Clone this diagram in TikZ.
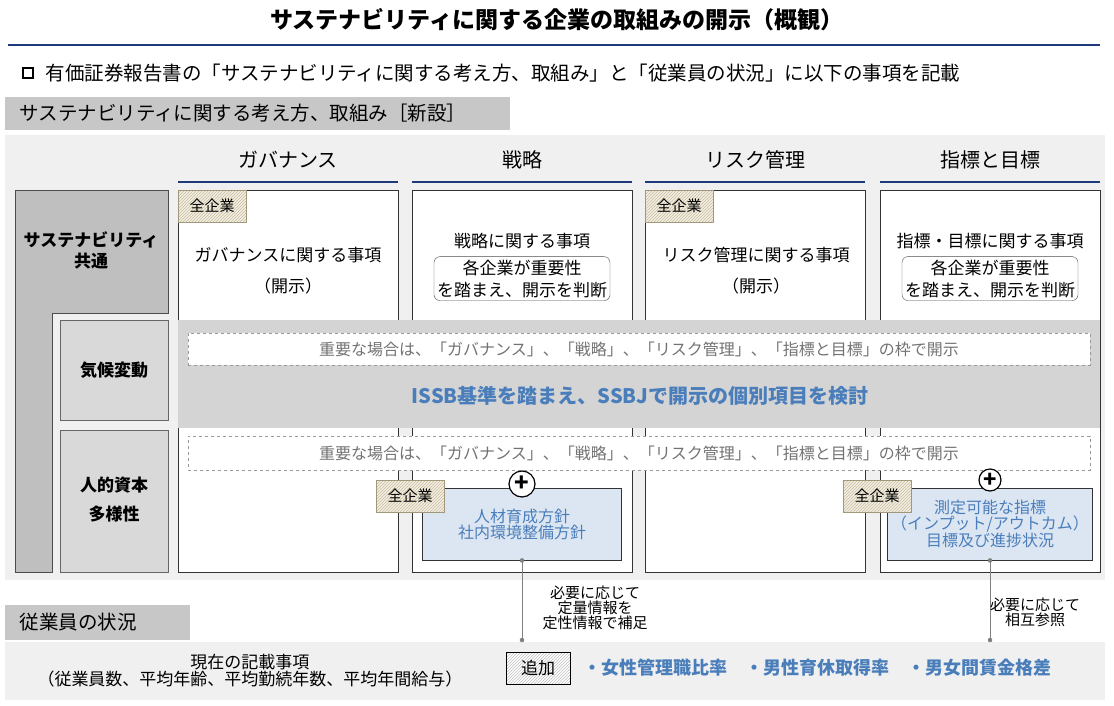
\documentclass[tikz,border=0pt]{standalone}
\usepackage{fontspec}
\setmainfont{Noto Sans CJK JP}
\usetikzlibrary{positioning,patterns}
\definecolor{navy}{HTML}{1F3A7A}
\definecolor{bluetxt}{HTML}{4A7EBB}
\definecolor{bluefill}{HTML}{DCE6F2}
\definecolor{hatch}{HTML}{C9BE9A}
\tikzset{
  fs/.style={font=\fontsize{#1}{#1}\selectfont},
  fsb/.style={font=\fontsize{#1}{#1}\selectfont\bfseries},
  colbox/.style={draw=black!80,fill=white},
  tagbox/.style={draw=hatch!80!black,preaction={fill=hatch!25},pattern=north east lines,pattern color=hatch,fs=15,text=black},
  dashbox/.style={draw=black!40,dashed,fill=white,fs=16,text=black!55},
  bluebox/.style={draw=black!80,fill=bluefill,fs=16,text=bluetxt,align=center,line width=0.8pt},
  head/.style={fs=20},
  body/.style={fs=17,align=center},
  link/.style={draw=black!50,line width=1pt},
  dot/.style={circle,fill=black!50,inner sep=1.6pt},
}
\begin{document}
\begin{tikzpicture}[x=1pt,y=-1pt]
  \useasboundingbox (0,0) rectangle (1114,705);
  \fill[white] (0,0) rectangle (1114,705);
  % title
  \node[fsb=23] (title) at (557,20) {サステナビリティに関する企業の取組みの開示（概観）};
  \draw[navy,line width=2pt] (8,45) -- (1100,45);
  \node[draw,line width=2pt,minimum size=10pt,inner sep=0pt] (bullet) at (28,73) {};
  \node[fs=19.5,anchor=west,right=8pt of bullet] (intro) {有価証券報告書の「サステナビリティに関する考え方、取組み」と「従業員の状況」に以下の事項を記載};
  % section bar
  \fill[black!22] (5,97) rectangle (510,130);
  \node[fs=19.5,anchor=west] (sec) at (16,113) {サステナビリティに関する考え方、取組み［新設］};
  \fill[black!6] (5,135) rectangle (1105,580);
  % columns
  \foreach \l/\r/\t/\n in {178/398/ガバナンス/gov,412/632/戦略/str,645/865/リスク管理/risk,880/1100/指標と目標/met}{
    \node[head] (h\n) at ({(\l+\r)/2},160) {\t};
    \draw[navy,line width=2.5pt] (\l,182) -- (\r,182);
    \draw[colbox] (\l,190) rectangle (\r,572);
  }
  % left gray shape
  \draw[fill=black!25,draw=black!70] (15,190) -- (168,190) -- (168,313) -- (52,313) -- (52,572) -- (15,572) -- cycle;
  \node[fsb=17,align=center] (common) at (91,250) {サステナビリティ\\[4pt]共通};
  \draw[fill=black!15,draw=black!60] (60,320) rectangle (168,420);
  \node[fsb=17] (climate) at (114,370) {気候変動};
  \draw[fill=black!15,draw=black!60] (60,430) rectangle (168,572);
  \node[fsb=17,align=center] (human) at (114,500) {人的資本\\[12pt]多様性};
  % column bodies
  \node[body] (govt) at (288,271) {ガバナンスに関する事項\\[14pt]（開示）};
  \node[body] (strt) at (522,241) {戦略に関する事項};
  \node[body,draw=black!70,rounded corners=6pt,inner sep=3pt,below=4pt of strt] (strj) {各企業が重要性\\[5pt]を踏まえ、開示を判断};
  \node[body] (riskt) at (756,271) {リスク管理に関する事項\\[14pt]（開示）};
  \node[body] (mett) at (990,241) {指標・目標に関する事項};
  \node[body,draw=black!70,rounded corners=6pt,inner sep=3pt,below=4pt of mett] (metj) {各企業が重要性\\[5pt]を踏まえ、開示を判断};
  % band
  \fill[black!17] (178,320) rectangle (1100,428);
  \node[dashbox,minimum width=902pt,minimum height=32pt] (dash1) at (639,349) {重要な場合は、「ガバナンス」、「戦略」、「リスク管理」、「指標と目標」の枠で開示};
  \node[fsb=20,text=bluetxt] (issb) at (640,396) {ISSB基準を踏まえ、SSBJで開示の個別項目を検討};
  \node[dashbox,minimum width=902pt,minimum height=34pt] (dash2) at (639,453) {重要な場合は、「ガバナンス」、「戦略」、「リスク管理」、「指標と目標」の枠で開示};
  % blue boxes
  \node[bluebox,minimum width=199pt,minimum height=72pt] (policy) at (522,524) {人材育成方針\\社内環境整備方針};
  \node[bluebox,minimum width=200pt,minimum height=72pt] (kpi) at (990,524) {測定可能な指標\\（インプット/アウトカム）\\目標及び進捗状況};
  \node[circle,draw,line width=1.2pt,fill=white,minimum size=26pt,inner sep=0pt,fsb=24] (plus1) at (522,484) {+};
  \node[circle,draw,line width=1.2pt,fill=white,minimum size=22pt,inner sep=0pt,fsb=22] (plus2) at (990,480) {+};
  \foreach \x/\y/\n in {178/190/tag1,645/190/tag2,376/480/tag3,843/480/tag4}
    \node[tagbox,anchor=north west,minimum width=68pt,minimum height=32pt] (\n) at (\x,\y) {全企業};
  % employees
  \fill[black!22] (5,605) rectangle (190,640);
  \node[fs=19.5,anchor=west] (emp) at (16,622) {従業員の状況};
  \fill[black!6] (5,642) rectangle (1105,700);
  \node[fs=17,align=center] (now) at (250,671) {現在の記載事項\\（従業員数、平均年齢、平均勤続年数、平均年間給与）};
  \node[tagbox,draw=black,fs=17,minimum width=64pt,minimum height=32pt,preaction={fill=white},pattern color=black!25] (add) at (538,668) {追加};
  \node[fsb=18,text=bluetxt,anchor=west] (items) at (580,668) {・女性管理職比率\quad ・男性育休取得率\quad ・男女間賃金格差};
  % links
  \coordinate (e1) at (522,640);
  \coordinate (e2) at (990,640);
  \draw[link] (policy.south) -- (e1);
  \draw[link] (kpi.south) -- (e2);
  \foreach \p in {policy.south,e1,kpi.south,e2} \node[dot] at (\p) {};
  \node[fs=15,align=center] (note1) at (595,608) {必要に応じて\\定量情報を\\定性情報で補足};
  \node[fs=15,align=center] (note2) at (1035,612) {必要に応じて\\相互参照};
\end{tikzpicture}
\end{document}
